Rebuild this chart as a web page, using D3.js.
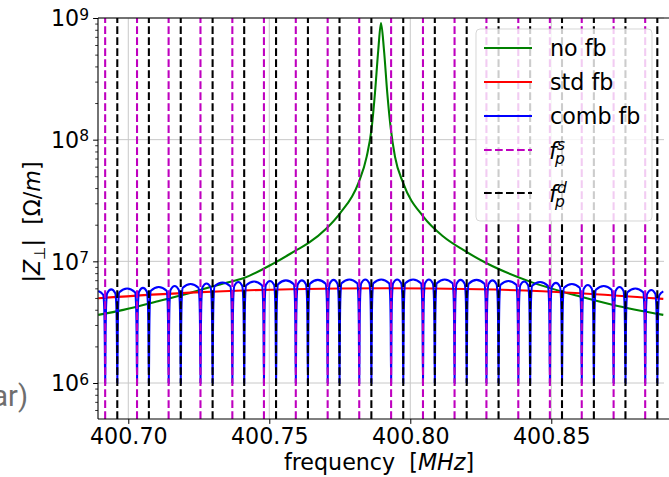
<!DOCTYPE html>
<html>
<head>
<meta charset="utf-8">
<script src="https://d3js.org/d3.v7.min.js"></script>
<style>
  html, body { margin: 0; padding: 0; background: #fff; }
  svg { display: block; font-family: 'DejaVu Sans', sans-serif; }
</style>
</head>
<body>
<div id="chart"></div>
<script>
// frequency in MHz, impedance in Ohm/m
const fS = [400.6918, 400.7031, 400.7143, 400.7256, 400.7369, 400.7481, 400.7594, 400.7707, 400.7819,
  400.7932, 400.8045, 400.8157, 400.8270, 400.8383, 400.8495, 400.8608, 400.8721, 400.8833];
const fD = [400.6961, 400.7073, 400.7186, 400.7299, 400.7411, 400.7524, 400.7637, 400.7749, 400.7862,
  400.7975, 400.8087, 400.8200, 400.8313, 400.8425, 400.8538, 400.8651, 400.8763, 400.8876];

const noFbF = [400.68936, 400.69823, 400.71007, 400.72188, 400.73369, 400.74078, 400.75202, 400.75972,
  400.76383, 400.77035, 400.77507, 400.78156, 400.78454, 400.78631, 400.78748, 400.78865, 400.78961,
  400.79067, 400.79184, 400.79305, 400.79457, 400.79752, 400.80461, 400.81170, 400.81879, 400.82709,
  400.84245, 400.86018, 400.87199, 400.88972];
const noFbZ = [3.63e6, 3.99e6, 4.67e6, 5.5e6, 6.58e6, 7.26e6, 9.76e6, 1.24e7,
  1.41e7, 1.87e7, 2.48e7, 4.38e7, 7.25e7, 1.25e8, 2.42e8, 5.46e8, 9.1e8,
  5.46e8, 2.42e8, 1.25e8, 7.25e7, 4.38e7, 2.33e7, 1.6e7, 1.24e7, 9.64e6,
  6.81e6, 5.13e6, 4.38e6, 3.63e6];

const stdFbF = [400.68936, 400.72188, 400.75734, 400.79163, 400.82473, 400.86018, 400.88972];
const stdFbZ = [4.98e6, 5.53e6, 5.9e6, 6.01e6, 5.9e6, 5.47e6, 4.91e6];

// comb fb: level between notches (left edge, 36 gaps, right edge), notch floor, notch flank shape
const combTop = [5.71e6, 5.88e6, 5.99e6, 6.05e6, 6.16e6, 6.28e6, 6.52e6, 6.58e6, 6.71e6, 6.77e6,
  6.83e6, 6.9e6, 6.97e6, 6.97e6, 7.04e6, 7.04e6, 7.1e6, 7.1e6, 7.1e6, 7.1e6, 7.1e6, 7.1e6, 7.1e6,
  7.04e6, 7.04e6, 6.97e6, 6.9e6, 6.83e6, 6.77e6, 6.65e6, 6.52e6, 6.4e6, 6.28e6, 6.16e6, 5.99e6,
  5.82e6, 5.66e6];
const combFloor = 1.0e6;
const notchFlank = [[0.00071, 0.93], [0.000355, 0.75], [0.00014, 0.4]];

const xTicks = [400.70, 400.75, 400.80, 400.85];
const yTicks = [1e6, 1e7, 1e8, 1e9];
const yMinor = [6e5, 7e5, 8e5, 9e5, 2e6, 3e6, 4e6, 5e6, 6e6, 7e6, 8e6, 9e6,
  2e7, 3e7, 4e7, 5e7, 6e7, 7e7, 8e7, 9e7, 2e8, 3e8, 4e8, 5e8, 6e8, 7e8, 8e8, 9e8];

const FONT = 22.2;
const LW = 2.08;

const margin = { top: 18, right: 5, bottom: 58, left: 98 },
  width = 669 - margin.left - margin.right,
  height = 477 - margin.top - margin.bottom;

const root = d3.select('#chart').append('svg').attr('width', 669).attr('height', 477);

// leftover text from the neighbouring panel
root.append('text')
  .attr('x', 28).attr('y', 406)
  .attr('text-anchor', 'end')
  .style('font-family', 'Roboto, sans-serif')
  .style('font-size', '29px')
  .attr('fill', '#6e6e6e')
  .text('ar)');

const svg = root.append('g').attr('transform', `translate(${margin.left},${margin.top})`);

const x = d3.scaleLinear().domain([400.68926, 400.88997]).range([0, width]);
const y = d3.scaleLog().domain([5.06e5, 1e9]).range([height, 0]);

svg.append('defs').append('clipPath').attr('id', 'plotClip')
  .append('rect').attr('width', width).attr('height', height);

// grid
svg.append('g').selectAll('line').data(xTicks).enter().append('line')
  .attr('x1', d => x(d)).attr('x2', d => x(d)).attr('y1', 0).attr('y2', height)
  .attr('stroke', '#c8c8c8').attr('stroke-width', 1);
svg.append('g').selectAll('line').data(yTicks).enter().append('line')
  .attr('x1', 0).attr('x2', width).attr('y1', d => y(d)).attr('y2', d => y(d))
  .attr('stroke', '#c8c8c8').attr('stroke-width', 1);

// comb fb points: flat tops between notches, steep notch at each pickup frequency
const notches = fS.concat(fD).sort((a, b) => a - b);
const combPts = [[noFbF[0], combTop[0]]];
notches.forEach((fn, i) => {
  const before = combTop[i], after = combTop[i + 1];
  notchFlank.forEach(([df, k]) => combPts.push([fn - df, before * k]));
  combPts.push([fn, combFloor]);
  notchFlank.slice().reverse().forEach(([df, k]) => combPts.push([fn + df, after * k]));
  const next = notches[i + 1];
  combPts.push([next !== undefined ? (fn + next) / 2 : noFbF[noFbF.length - 1], after]);
});

const line = d3.line().x(d => x(d[0])).y(d => y(d[1])).curve(d3.curveMonotoneX);

const curves = svg.append('g').attr('clip-path', 'url(#plotClip)');
curves.append('path').datum(d3.zip(noFbF, noFbZ))
  .attr('d', line).attr('fill', 'none').attr('stroke', '#008000').attr('stroke-width', LW);
curves.append('path').datum(d3.zip(stdFbF, stdFbZ))
  .attr('d', line).attr('fill', 'none').attr('stroke', '#ff0000').attr('stroke-width', LW);
curves.append('path').datum(combPts)
  .attr('d', line).attr('fill', 'none').attr('stroke', '#0000ff').attr('stroke-width', LW);

// pickup frequency markers
[[fS, '#bf00bf'], [fD, '#000000']].forEach(([vals, col]) => {
  curves.append('g').selectAll('line').data(vals).enter().append('line')
    .attr('x1', d => x(d)).attr('x2', d => x(d)).attr('y1', height).attr('y2', 0)
    .attr('stroke', col).attr('stroke-width', LW).attr('stroke-dasharray', '7.7,3.3');
});

// spines
svg.append('line').attr('x1', 0).attr('x2', 0).attr('y1', 0).attr('y2', height)
  .attr('stroke', '#000').attr('stroke-width', 1.1);
svg.append('line').attr('x1', 0).attr('x2', width + 5).attr('y1', height).attr('y2', height)
  .attr('stroke', '#000').attr('stroke-width', 1.1);
svg.append('line').attr('x1', 0).attr('x2', width + 5).attr('y1', 0).attr('y2', 0)
  .attr('stroke', '#000').attr('stroke-width', 1.1);

// x axis
const xAxis = svg.append('g').attr('transform', `translate(0,${height})`)
  .call(d3.axisBottom(x).tickValues(xTicks).tickSize(4.9).tickPadding(4.5).tickFormat(d3.format('.2f')));
xAxis.select('.domain').remove();
xAxis.selectAll('text').style('font-size', FONT + 'px').style('font-family', 'DejaVu Sans').attr('fill', '#000');

// y axis
const yAxis = svg.append('g')
  .call(d3.axisLeft(y).tickValues(yTicks).tickSize(4.9).tickFormat(''));
yAxis.select('.domain').remove();
const yMinorAxis = svg.append('g')
  .call(d3.axisLeft(y).tickValues(yMinor).tickSize(2.8).tickFormat(''));
yMinorAxis.select('.domain').remove();
yMinorAxis.selectAll('line').attr('stroke-width', 0.8);

const yLab = svg.append('g').selectAll('text').data(yTicks).enter().append('text')
  .attr('x', -9).attr('y', d => y(d) + 8.2)
  .attr('text-anchor', 'end')
  .style('font-size', FONT + 'px');
yLab.append('tspan').text('10');
yLab.append('tspan').attr('dy', -6.7).style('font-size', '15.5px').text(d => Math.round(Math.log10(d)));

// axis titles
const xTitle = svg.append('text')
  .attr('x', width / 2 - 2).attr('y', height + 51)
  .attr('text-anchor', 'middle')
  .style('font-size', FONT + 'px')
  .style('white-space', 'pre');
xTitle.append('tspan').text('frequency  [');
xTitle.append('tspan').style('font-style', 'italic').text('MHz');
xTitle.append('tspan').text(']');

const yTitle = svg.append('text')
  .attr('transform', `translate(${40 - margin.left},${222 - margin.top}) rotate(-90)`)
  .attr('text-anchor', 'middle')
  .style('font-size', FONT + 'px')
  .style('white-space', 'pre');
yTitle.append('tspan').text('|');
yTitle.append('tspan').style('font-style', 'italic').text('Z');
yTitle.append('tspan').attr('dy', 5).style('font-size', '15.5px').text('\u22A5');
yTitle.append('tspan').attr('dy', -5).text('|  [\u03A9/');
yTitle.append('tspan').style('font-style', 'italic').text('m');
yTitle.append('tspan').text(']');

// legend
const legend = root.append('g').attr('transform', 'translate(476,29)');
legend.append('rect')
  .attr('width', 176).attr('height', 192).attr('rx', 4)
  .attr('fill', '#fff').attr('fill-opacity', 0.8)
  .attr('stroke', '#cccccc').attr('stroke-opacity', 0.8);

const legendItems = [
  { label: 'no fb', color: '#008000', dash: null, y: 19 },
  { label: 'std fb', color: '#ff0000', dash: null, y: 53 },
  { label: 'comb fb', color: '#0000ff', dash: null, y: 87 },
  { sup: 's', color: '#bf00bf', dash: '7.7,3.3', y: 121 },
  { sup: 'd', color: '#000000', dash: '7.7,3.3', y: 164 }
];
legendItems.forEach(item => {
  legend.append('line')
    .attr('x1', 8).attr('x2', 56).attr('y1', item.y).attr('y2', item.y)
    .attr('stroke', item.color).attr('stroke-width', LW)
    .attr('stroke-dasharray', item.dash);
  if (item.label) {
    legend.append('text').attr('x', 74).attr('y', item.y + 8)
      .style('font-size', FONT + 'px').text(item.label);
  } else {
    legend.append('text').attr('x', 73).attr('y', item.y + 9)
      .style('font-size', FONT + 'px').style('font-style', 'italic').text('f');
    legend.append('text').attr('x', 81).attr('y', item.y)
      .style('font-size', '15.5px').style('font-style', 'italic').text(item.sup);
    legend.append('text').attr('x', 79).attr('y', item.y + 13.5)
      .style('font-size', '15.5px').style('font-style', 'italic').text('p');
  }
});
</script>
</body>
</html>
